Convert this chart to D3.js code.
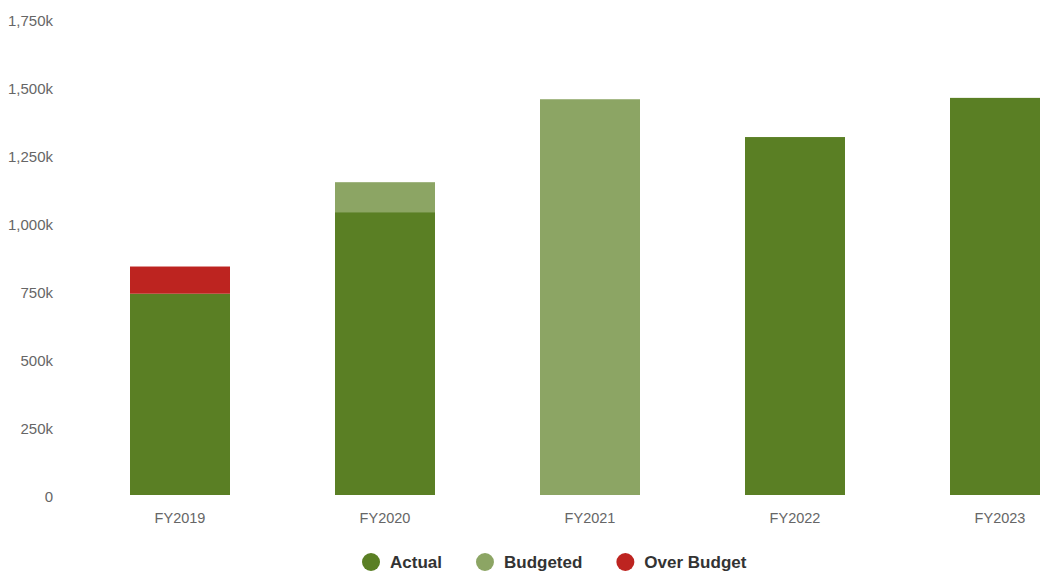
<!DOCTYPE html>
<html>
<head>
<meta charset="utf-8">
<script src="https://cdn.jsdelivr.net/npm/d3@7"></script>
<style>
  html, body { margin: 0; padding: 0; background: #fff; overflow: hidden; }
  svg { display: block; font-family: "Liberation Sans", Arial, Helvetica, sans-serif; }
</style>
</head>
<body>
<svg id="chart" width="1040" height="571"></svg>
<script>
// ---- data ----
const categories = ["FY2019", "FY2020", "FY2021", "FY2022", "FY2023"];
const actual     = [740000, 1040000, 0, 1316000, 1460000];
const budgeted   = [0, 110000, 1455000, 0, 0];
const overBudget = [100000, 0, 0, 0, 0];
const seriesNames = ["Actual", "Budgeted", "Over Budget"];
const seriesColors = ["#5a7f24", "#8ca564", "#bd2420"];
const yTicks = [0, 250000, 500000, 750000, 1000000, 1250000, 1500000, 1750000];

// ---- layout ----
const svg = d3.select("#chart");

const rows = categories.map((c, i) => ({
  cat: c, "Actual": actual[i], "Budgeted": budgeted[i], "Over Budget": overBudget[i]
}));
const stacked = d3.stack().keys(seriesNames)(rows);

const x = d3.scaleBand()
  .domain(categories)
  .range([77.5, 1102.5])
  .paddingInner(105 / 205)
  .paddingOuter(52.5 / 205);

const y = d3.scaleLinear().domain([0, 1750000]).range([495, 19]);
const color = d3.scaleOrdinal().domain(seriesNames).range(seriesColors);

// bars
svg.append("g").selectAll("g")
  .data(stacked)
  .join("g")
  .attr("fill", d => color(d.key))
  .selectAll("rect")
  .data(d => d.filter(s => s[1] - s[0] > 0))
  .join("rect")
  .attr("x", d => x(d.data.cat))
  .attr("width", x.bandwidth())
  .attr("y", d => y(d[1]))
  .attr("height", d => y(d[0]) - y(d[1]));

// y axis labels
const fmt = v => v === 0 ? "0" : d3.format(",")(v / 1000) + "k";
const yAxis = d3.axisLeft(y).tickValues(yTicks).tickFormat(fmt).tickSize(0).tickPadding(0);
const gy = svg.append("g").attr("transform", "translate(53,1.5)").call(yAxis);
gy.select(".domain").remove();
gy.selectAll("text").attr("fill", "#666").attr("font-size", "15px")
  .attr("font-family", "'Liberation Sans', Arial, sans-serif");

// x axis labels
const xAxis = d3.axisBottom(x).tickSize(0).tickPadding(0);
const gx = svg.append("g").attr("transform", "translate(0,513)").call(xAxis);
gx.select(".domain").remove();
gx.selectAll("text").attr("fill", "#666").attr("font-size", "14.5px")
  .attr("font-family", "'Liberation Sans', Arial, sans-serif");

// legend
const legend = svg.append("g").attr("transform", "translate(0,562)");
let lx = 362;
seriesNames.forEach((name, i) => {
  const g = legend.append("g");
  g.append("circle").attr("cx", lx + 9).attr("cy", 0).attr("r", 9).attr("fill", seriesColors[i]);
  const t = g.append("text").attr("x", lx + 28).attr("y", 0).attr("dy", "0.36em")
    .attr("font-size", "17px").attr("font-weight", "bold").attr("fill", "#333")
    .text(name);
  lx += 28 + t.node().getComputedTextLength() + 34;
});
</script>
</body>
</html>
